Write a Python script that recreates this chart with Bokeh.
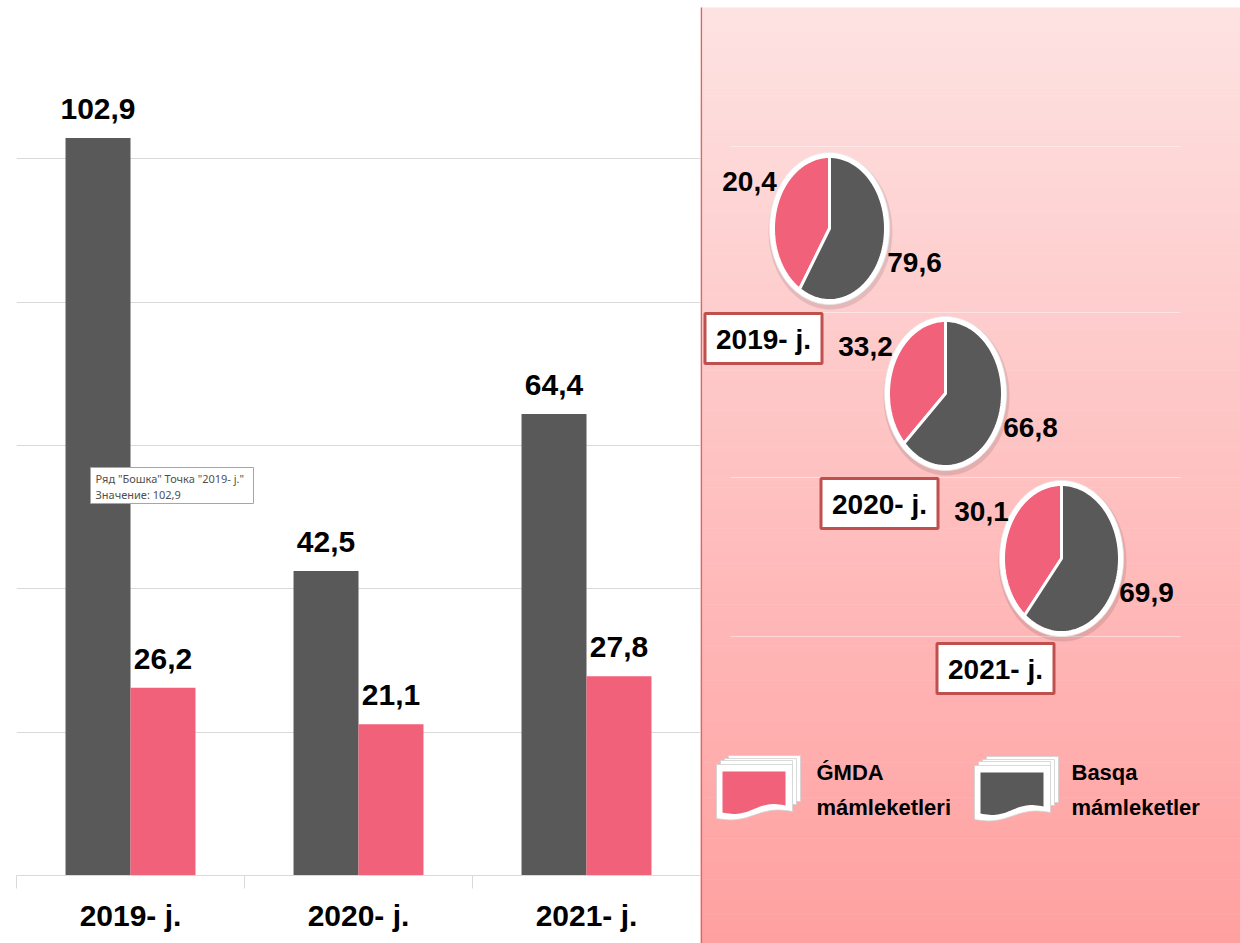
import numpy as np
from bokeh.plotting import figure
from bokeh.layouts import row
from bokeh.models import ColumnDataSource, Range1d, FixedTicker
from bokeh.core.properties import value
from bokeh.embed import file_html
from bokeh.resources import INLINE

# ---------------- data ----------------
years = ["2019- j.", "2020- j.", "2021- j."]
other_vals = [102.9, 42.5, 64.4]        # Basqa mámleketler (dark bars)
gmda_vals = [26.2, 21.1, 27.8]          # ǴMDA mámleketleri (pink bars)
pie_gmda_labels = [20.4, 33.2, 30.1]    # printed pie labels
pie_other_labels = [79.6, 66.8, 69.9]
pie_gmda_drawn = [41, 37, 39]           # pink slice share as drawn in the picture (%)
legend_labels = ["ǴMDA\nmámleketleri", "Basqa\nmámleketler"]
y_ticks = [0, 20, 40, 60, 80, 100, 120]
series_name = "Бошка"

DARK = "#595959"
PINK = "#F16179"
FONT = "Liberation Sans Narrow, Liberation Sans"
NARROW = value(FONT)
SANS = value("Liberation Sans")


def fmt(v):
    return f"{v:.1f}".replace(".", ",")


# ---------------- left: bar chart ----------------
p = figure(width=700, height=943, x_range=Range1d(-0.5, 2.5), y_range=Range1d(0, 120),
           output_backend="svg", toolbar_location=None,
           min_border_left=16, min_border_right=0, min_border_top=15, min_border_bottom=68)
p.frame_align = False
p.outline_line_color = None
p.background_fill_color = "white"
p.border_fill_color = "white"
p.yaxis.visible = False
p.xgrid.visible = False
p.ygrid.ticker = FixedTicker(ticks=y_ticks)
p.ygrid.grid_line_color = "#d9d9d9"
p.ygrid.grid_line_width = 1

idx = np.arange(len(years))
bw = 0.285
src = ColumnDataSource(dict(
    xd=idx - bw / 2, xp=idx + bw / 2,
    other=other_vals, gmda=gmda_vals,
    other_lbl=[fmt(v) for v in other_vals],
    gmda_lbl=[fmt(v) for v in gmda_vals],
))
p.vbar(x="xd", top="other", width=bw, fill_color=DARK, line_color=None, source=src)
p.vbar(x="xp", top="gmda", width=bw, fill_color=PINK, line_color=None, source=src)
for xcol, ycol, tcol in (("xd", "other", "other_lbl"), ("xp", "gmda", "gmda_lbl")):
    p.text(x=xcol, y=ycol, text=tcol, source=src, text_align="center",
           text_baseline="alphabetic", y_offset=-29,
           text_font=NARROW, text_font_style="bold", text_font_size="30px",
           text_color="black")

ax = p.xaxis[0]
ax.ticker = FixedTicker(ticks=list(idx), minor_ticks=[-0.5, 0.5, 1.5, 2.5])
ax.major_label_overrides = {int(i): y for i, y in zip(idx, years)}
ax.major_tick_line_color = None
ax.major_tick_out = 13
ax.major_tick_in = 0
ax.minor_tick_out = 13
ax.minor_tick_in = 0
ax.minor_tick_line_color = "#d9d9d9"
ax.axis_line_color = "#d9d9d9"
ax.major_label_standoff = 10
ax.major_label_text_font = FONT
ax.major_label_text_font_style = "bold"
ax.major_label_text_font_size = "30px"
ax.major_label_text_color = "black"

# hover-tooltip box visible in the screenshot
ppu = 860 / 120.0
def ypx(px):
    return (875 - px) / ppu
def xpx(px):
    return -0.5 + (px - 16) / 228.0
p.quad(left=[xpx(90)], right=[xpx(253)], top=[ypx(467)], bottom=[ypx(503)],
       fill_color="white", line_color="#a6a6a6", line_width=1)
tip_lines = [f'Ряд "{series_name}" Точка "{years[0]}"', f"Значение: {fmt(other_vals[0])}"]
p.text(x=[xpx(95)] * 2, y=[ypx(478), ypx(494)], text=tip_lines,
       text_align="left", text_baseline="middle", text_font=value("Noto Sans"),
       text_font_size="11px", text_color="#505050")

# ---------------- right: pies panel ----------------
q = figure(width=540, height=943, x_range=Range1d(700, 1240), y_range=Range1d(943, 0),
           output_backend="svg", toolbar_location=None, x_axis_type=None, y_axis_type=None,
           min_border=0)
q.frame_align = False
q.outline_line_color = None
q.grid.visible = False
q.background_fill_color = "white"
q.border_fill_color = "white"

# vertical gradient background
n = 160
edges = np.linspace(7, 943, n + 1)
c0 = np.array([254, 226, 226])
c1 = np.array([255, 160, 160])
cols = []
for k in range(n):
    f = k / (n - 1)
    c = (c0 + (c1 - c0) * f).round().astype(int)
    cols.append("#%02x%02x%02x" % tuple(c))
q.quad(left=700, right=1240, top=edges[:-1], bottom=edges[1:] + 0.6,
       fill_color=cols, line_color=None)
q.segment(x0=[700.8], y0=[7], x1=[700.8], y1=[943], line_color="#E06464", line_width=1.6)

# faint grid lines
q.segment(x0=[730] * 4, x1=[1180] * 4, y0=[146, 312, 477, 636], y1=[146, 312, 477, 636],
          line_color="white", line_alpha=0.45, line_width=1)


def ellipse(cx, cy, rx, ry, m=120):
    t = np.linspace(0, 2 * np.pi, m)
    return list(cx - rx * np.sin(t)), list(cy - ry * np.cos(t))


def sector(cx, cy, rx, ry, t0, t1, m=90):
    t = np.linspace(t0, t1, m)
    xs = [cx] + list(cx - rx * np.sin(t)) + [cx]
    ys = [cy] + list(cy - ry * np.cos(t)) + [cy]
    return xs, ys


for i in range(len(years)):
    cx = 829 + 116 * i
    cy = 228 + 165 * i
    rx = 56 + i
    ry = 72 + i
    # shadow + white rim
    sx, sy = ellipse(cx + 1, cy + 3, rx + 6, ry + 6)
    q.patch(sx, sy, fill_color="black", fill_alpha=0.10, line_color=None)
    wx, wy = ellipse(cx, cy, rx + 4, ry + 4)
    q.patch(wx, wy, fill_color="white", line_color="#e8e8e8", line_width=0.8)
    share = pie_gmda_drawn[i] / 100.0
    px_, py_ = sector(cx, cy, rx, ry, 0, 2 * np.pi * share)
    q.patch(px_, py_, fill_color=PINK, line_color="white", line_width=3)
    dx_, dy_ = sector(cx, cy, rx, ry, 2 * np.pi * share, 2 * np.pi)
    q.patch(dx_, dy_, fill_color=DARK, line_color="white", line_width=3)
    # labels
    q.text(x=[cx - 80, cx + 85], y=[cy - 47, cy + 34],
           text=[fmt(pie_gmda_labels[i]), fmt(pie_other_labels[i])],
           text_align="center", text_baseline="middle", text_font=NARROW,
           text_font_style="bold", text_font_size="28px", text_color="black")
    # year box
    bx = cx - 66
    by = cy + 110
    q.rect(x=[bx], y=[by], width=117, height=50, fill_color="white",
           line_color="#C0504D", line_width=3)
    q.text(x=[bx], y=[by + 1], text=[years[i]], text_align="center", text_baseline="middle",
           text_font=NARROW, text_font_style="bold", text_font_size="28px", text_color="black")


# legend icons
def wave_bottom(x0, x1, yb, m=30):
    s = np.linspace(0, 1, m)
    xs = x0 + (x1 - x0) * s
    ys = yb - 7 * s + 3 * np.sin(2 * np.pi * s)
    return list(xs), list(ys)


def icon(x0, y0, color):
    # stacked pages (back)
    for dx, dy in ((12, -7), (8, -4), (4, -2)):
        q.quad(left=[x0 + dx], right=[x0 + dx + 72], top=[y0 + dy], bottom=[y0 + dy + 46],
               fill_color="white", line_color="#d0d0d0", line_width=0.8)
    # front page
    bx, byy = wave_bottom(x0, x0 + 76, y0 + 56)
    xs = [x0, x0 + 76] + bx[::-1]
    ys = [y0 + 2, y0 + 2] + byy[::-1]
    q.patch(xs, ys, fill_color="white", line_color="#d0d0d0", line_width=0.8)
    # colored inner
    bx, byy = wave_bottom(x0 + 6, x0 + 69, y0 + 50)
    xs = [x0 + 6, x0 + 69] + bx[::-1]
    ys = [y0 + 9, y0 + 9] + byy[::-1]
    q.patch(xs, ys, fill_color=color, line_color=None)


icon(716, 762, PINK)
icon(974, 763, DARK)
for (tx, lab) in ((816, legend_labels[0]), (1071, legend_labels[1])):
    l1, l2 = lab.split("\n")
    q.text(x=[tx, tx], y=[772, 807], text=[l1, l2], text_align="left",
           text_baseline="alphabetic", text_font=SANS, text_font_style="bold",
           text_font_size="22px", text_color="black")

layout = row(p, q, spacing=0)
open("out.html", "w").write(file_html(layout, INLINE))
